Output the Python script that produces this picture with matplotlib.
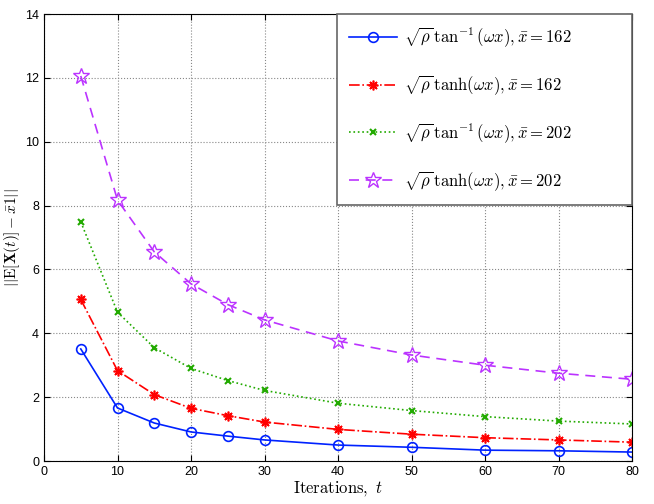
import matplotlib
matplotlib.use("Agg")
import matplotlib.pyplot as plt

plt.rcParams['mathtext.fontset'] = 'cm'
plt.rcParams['font.family'] = ['Liberation Sans', 'DejaVu Sans']

iterations = [5, 10, 15, 20, 25, 30, 40, 50, 60, 70, 80]
atan_162 = [3.51, 1.66, 1.19, 0.91, 0.78, 0.66, 0.50, 0.43, 0.34, 0.32, 0.28]
tanh_162 = [5.06, 2.83, 2.08, 1.65, 1.42, 1.22, 0.99, 0.84, 0.73, 0.66, 0.59]
atan_202 = [7.49, 4.66, 3.55, 2.90, 2.52, 2.21, 1.81, 1.58, 1.39, 1.25, 1.16]
tanh_202 = [12.06, 8.17, 6.55, 5.55, 4.90, 4.42, 3.76, 3.32, 3.00, 2.75, 2.56]

labels = [r'$\sqrt{\rho}\,\tan^{-1}(\omega x), \bar{x}=162$',
          r'$\sqrt{\rho}\,\tanh(\omega x), \bar{x}=162$',
          r'$\sqrt{\rho}\,\tan^{-1}(\omega x), \bar{x}=202$',
          r'$\sqrt{\rho}\,\tanh(\omega x), \bar{x}=202$']

fig = plt.figure(figsize=(6.54, 5.04), dpi=100)
ax = fig.add_axes([0.0673, 0.0853, 0.8991, 0.8869])

ax.plot(iterations, atan_162, '-', color='#0022ff', marker='o', markersize=7,
        markerfacecolor='none', markeredgewidth=1.2, lw=1.2, label=labels[0])
ax.plot(iterations, tanh_162, '-.', color='#ff0000', marker=(8, 2, 0), markersize=7,
        markeredgewidth=1.2, lw=1.2, label=labels[1])
ax.plot(iterations, atan_202, ':', color='#22aa00', marker='x', markersize=5,
        markeredgewidth=1.5, lw=1.2, label=labels[2])
ax.plot(iterations, tanh_202, '--', color='#bb33ff', marker='*', markersize=12,
        markerfacecolor='none', markeredgewidth=1.0, lw=1.2, dashes=(6, 4), label=labels[3])

ax.set_xlim(0, 80)
ax.set_ylim(0, 14)
ax.set_xticks(range(0, 81, 10))
ax.set_yticks(range(0, 15, 2))
ax.tick_params(direction='in', top=True, right=True, labelsize=9, length=4)
ax.grid(True, linestyle=':', color='#888888', lw=0.8)
for s in ax.spines.values():
    s.set_color('black')
    s.set_linewidth(0.8)

ax.set_xlabel(r'$\mathrm{Iterations,}\ t$', fontsize=12, labelpad=1)
ax.set_ylabel(r'$||\mathrm{E}[\mathbf{X}(t)]-\bar{x}\mathbf{1}||$', fontsize=11, labelpad=2)

leg = ax.legend(loc='upper right', bbox_to_anchor=(0.498, 0.568, 0.502, 0.432),
                mode='expand', fontsize=12, handlelength=2.9, handletextpad=0.4,
                labelspacing=1.45, borderpad=0.7, fancybox=False, framealpha=1,
                numpoints=1, borderaxespad=0.0)
leg.get_frame().set_edgecolor('#666666')
leg.get_frame().set_linewidth(1.2)

fig.savefig('out.png', dpi=100)
